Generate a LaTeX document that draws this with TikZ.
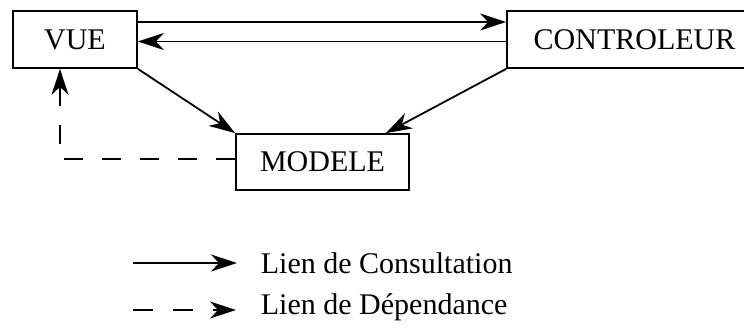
\documentclass[tikz,border=0pt]{standalone}
\usepackage{fontspec}
\setmainfont{Liberation Serif}
\usetikzlibrary{arrows.meta}

\begin{document}
\begin{tikzpicture}[x=1pt,y=-1pt,line width=1.8pt,font=\fontsize{30pt}{36pt}\selectfont,
  box/.style={draw,inner sep=0pt,minimum height=57pt},
  lien/.style={-{Stealth[length=26pt,width=17pt,inset=8pt]}},
  dep/.style={lien,dash pattern=on 19pt off 19pt}]
  \useasboundingbox (0,0) rectangle (744,329);
  \node[box,minimum width=124pt] (vue) at (75,39.5) {VUE};
  \node[box,minimum width=255pt] (ctrl) at (634.5,39.5) {CONTROLEUR};
  \node[box,minimum width=173pt,minimum height=56pt] (modele) at (322.5,162) {MODELE};
  \draw[lien] ([yshift=17.5pt]vue.east) -- ([yshift=17.5pt]ctrl.west);
  \draw[lien] ([yshift=-2pt]ctrl.west) -- ([yshift=-2pt]vue.east);
  \draw[lien] (vue.south east) -- (modele.north west);
  \draw[lien] (ctrl.south west) -- ([xshift=-24pt]modele.north east);
  \draw[dep] ([yshift=3pt]modele.west) -| ([xshift=-15pt]vue.south);
  % legende
  \coordinate (consA) at (133,263);
  \coordinate (consB) at (237,263);
  \coordinate (depA) at (133,310);
  \coordinate (depB) at (236,310);
  \draw[lien] (consA) -- (consB);
  \draw[dep,dash pattern=on 20pt off 20pt] (depA) -- (depB);
  \node[anchor=base west,inner sep=0pt] (txtcons) at (260,273) {Lien de Consultation};
  \node[anchor=base west,inner sep=0pt] (txtdep) at (260,314) {Lien de Dépendance};
\end{tikzpicture}
\end{document}
